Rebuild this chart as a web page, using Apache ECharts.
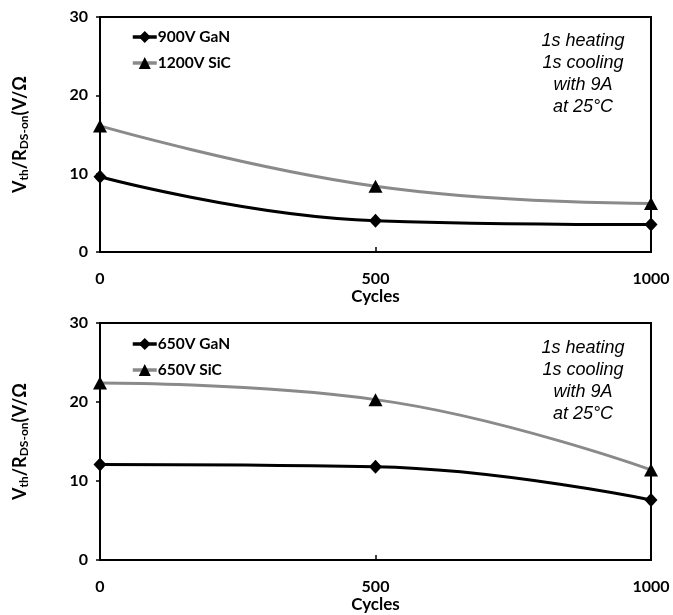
<!DOCTYPE html>
<html><head><meta charset="utf-8">
<script src="https://cdn.jsdelivr.net/npm/echarts@6/dist/echarts.min.js"></script>
<style>html,body{margin:0;padding:0;background:#fff}#c{width:673px;height:615px}</style>
</head><body><div id="c"></div>
<script>
const cycles = [0, 500, 1000];
const xTicks = [0, 500, 1000];
const yTicks = [0, 10, 20, 30];
const topGaN = [9.6, 4.0, 3.5];
const topSiC = [16.1, 8.4, 6.2];
const botGaN = [12.1, 11.8, 7.6];
const botSiC = [22.4, 20.3, 11.4];
const topNames = ['900V GaN', '1200V SiC'];
const botNames = ['650V GaN', '650V SiC'];
const noteLines = ['1s heating', '1s cooling', 'with 9A', 'at 25°C'];

const F = 'Lato, "Open Sans", sans-serif';
const chart = echarts.init(document.getElementById('c'), null, {renderer: 'canvas'});
const pair = arr => arr.map((v, i) => [cycles[i], v]);

function xAxis(gi) {
  return {
    type: 'value', gridIndex: gi, min: 0, max: 1000, interval: 500,
    name: 'Cycles', nameLocation: 'middle', nameGap: 36,
    nameTextStyle: {fontFamily: F, fontWeight: 'bold', fontSize: 17, color: '#000'},
    axisLine: {show: true, lineStyle: {color: '#000', width: 2}},
    axisTick: {show: true, inside: true, length: 5, lineStyle: {color: '#000', width: 1.5}},
    axisLabel: {fontFamily: F, fontWeight: 'bold', fontSize: 16, color: '#000', margin: 19,
      formatter: v => xTicks.includes(v) ? String(v) : ''},
    splitLine: {show: false}
  };
}
function yAxis(gi) {
  return {
    type: 'value', gridIndex: gi, min: 0, max: 30, interval: 10,
    name: '{n|V}{s|th}{n|/R}{s|DS-on}{n|(V/Ω}', nameLocation: 'middle', nameRotate: 90, nameGap: 70,
    nameTextStyle: {rich: {
      n: {fontFamily: F, fontWeight: 'bold', fontSize: 18, color: '#000'},
      s: {fontFamily: F, fontWeight: 'bold', fontSize: 12, color: '#000', verticalAlign: 'bottom', padding: [8, 0, 0, 0]}
    }},
    axisLine: {show: true, lineStyle: {color: '#000', width: 2}},
    axisTick: {show: true, inside: false, length: 4, lineStyle: {color: '#000', width: 1.5}},
    axisLabel: {fontFamily: F, fontWeight: 'bold', fontSize: 16, color: '#000', margin: 12,
      formatter: v => yTicks.includes(v) ? String(v) : ''},
    splitLine: {show: false}
  };
}
function series(name, data, gi, isGaN) {
  return {
    name, type: 'line', xAxisIndex: gi, yAxisIndex: gi, data: pair(data),
    smooth: 0.45, symbol: isGaN ? 'diamond' : 'triangle', symbolSize: isGaN ? [13, 14] : [14, 13],
    lineStyle: {color: isGaN ? '#000' : '#8a8a8a', width: 3},
    itemStyle: {color: '#000'}, z: isGaN ? 3 : 2
  };
}
function legend(names, top) {
  return {
    data: names, orient: 'vertical', left: 126, top, itemGap: 10, itemWidth: 24, itemHeight: 15,
    lineStyle: {width: 3.5},
    textStyle: {fontFamily: F, fontWeight: 'bold', fontSize: 15.5, color: '#000', padding: [0, 0, 0, -4]}
  };
}
function note(y) {
  return {
    type: 'text', x: 583, y, silent: true, style: {
      text: noteLines.join('\n'), align: 'center', verticalAlign: 'top', lineHeight: 22,
      font: 'italic 18px "Liberation Sans", Arial, sans-serif', fill: '#000'
    }
  };
}

chart.setOption({
  backgroundColor: '#fff',
  animation: false,
  grid: [
    {left: 100, right: 22, top: 17, height: 235, show: true, borderColor: '#000', borderWidth: 2, containLabel: false},
    {left: 100, right: 22, top: 323, height: 237, show: true, borderColor: '#000', borderWidth: 2, containLabel: false}
  ],
  xAxis: [xAxis(0), xAxis(1)],
  yAxis: [yAxis(0), yAxis(1)],
  legend: [legend(topNames, 24), legend(botNames, 331)],
  series: [
    series(topNames[0], topGaN, 0, true), series(topNames[1], topSiC, 0, false),
    series(botNames[0], botGaN, 1, true), series(botNames[1], botSiC, 1, false)
  ],
  graphic: [note(30), note(337)]
});
</script></body></html>
